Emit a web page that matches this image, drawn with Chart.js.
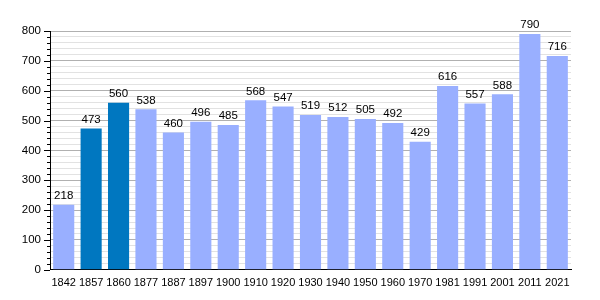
<!DOCTYPE html>
<html>
<head>
<meta charset="utf-8">
<script src="https://cdn.jsdelivr.net/npm/chart.js@4/dist/chart.umd.min.js"></script>
<style>
  html, body { margin: 0; padding: 0; background: #fff; }
  #wrap { width: 600px; height: 300px; }
</style>
</head>
<body>
<div id="wrap"><canvas id="popChart"></canvas></div>
<script>
const years = ["1842", "1857", "1860", "1877", "1887", "1897", "1900", "1910", "1920", "1930",
  "1940", "1950", "1960", "1970", "1981", "1991", "2001", "2011", "2021"];
const population = [218, 473, 560, 538, 460, 496, 485, 568, 547, 519, 512, 505, 492, 429, 616, 557, 588, 790, 716];
const highlighted = ["1857", "1860"];

const lightBlue = "rgb(153, 175, 255)";
const darkBlue = "rgb(0, 119, 192)";
const fontFamily = "'Liberation Sans', Arial, sans-serif";

// value labels above each bar
const valueLabels = {
  id: "valueLabels",
  afterDatasetsDraw(chart) {
    const ctx = chart.ctx;
    const meta = chart.getDatasetMeta(0);
    ctx.save();
    ctx.font = "11.5px " + fontFamily;
    ctx.fillStyle = "#000";
    ctx.textAlign = "center";
    ctx.textBaseline = "bottom";
    meta.data.forEach((bar, i) => {
      ctx.fillText(population[i], bar.x, bar.y - 3);
    });
    ctx.restore();
  }
};

// y axis tick marks: long on hundreds, short on minor steps
const yTickMarks = {
  id: "yTickMarks",
  afterDraw(chart) {
    const ctx = chart.ctx;
    const y = chart.scales.y;
    ctx.save();
    ctx.strokeStyle = "#000";
    ctx.lineWidth = 1;
    y.ticks.forEach(t => {
      const py = Math.round(y.getPixelForValue(t.value)) + 0.5;
      const len = t.value % 100 === 0 ? 6 : 3;
      ctx.beginPath();
      ctx.moveTo(y.right - len, py);
      ctx.lineTo(y.right, py);
      ctx.stroke();
    });
    ctx.restore();
  }
};

new Chart(document.getElementById("popChart"), {
  type: "bar",
  data: {
    labels: years,
    datasets: [{
      data: population,
      backgroundColor: years.map(y => highlighted.includes(y) ? darkBlue : lightBlue),
      borderWidth: 0,
      barPercentage: 0.77,
      categoryPercentage: 1
    }]
  },
  options: {
    responsive: true,
    maintainAspectRatio: false,
    animation: false,
    layout: { padding: { top: 31, right: 29, left: 0, bottom: 3 } },
    plugins: { legend: { display: false }, tooltip: { enabled: false } },
    scales: {
      x: {
        grid: { display: false, drawTicks: false },
        border: { color: "#000", width: 1 },
        ticks: { color: "#000", font: { size: 11, family: fontFamily }, maxRotation: 0, autoSkip: false, padding: 7 }
      },
      y: {
        min: 0,
        max: 800,
        afterFit(scale) { scale.width = 50; },
        grid: {
          drawTicks: false,
          color: ctx => ctx.tick && ctx.tick.value % 100 === 0 ? "#b0b0b0" : "#e2e2e2"
        },
        border: { color: "#000", width: 1 },
        ticks: {
          stepSize: 20,
          autoSkip: false,
          color: "#000",
          padding: 9,
          font: { size: 11.5, family: fontFamily },
          callback: v => v % 100 === 0 ? v : ""
        }
      }
    }
  },
  plugins: [valueLabels, yTickMarks]
});
</script>
</body>
</html>
